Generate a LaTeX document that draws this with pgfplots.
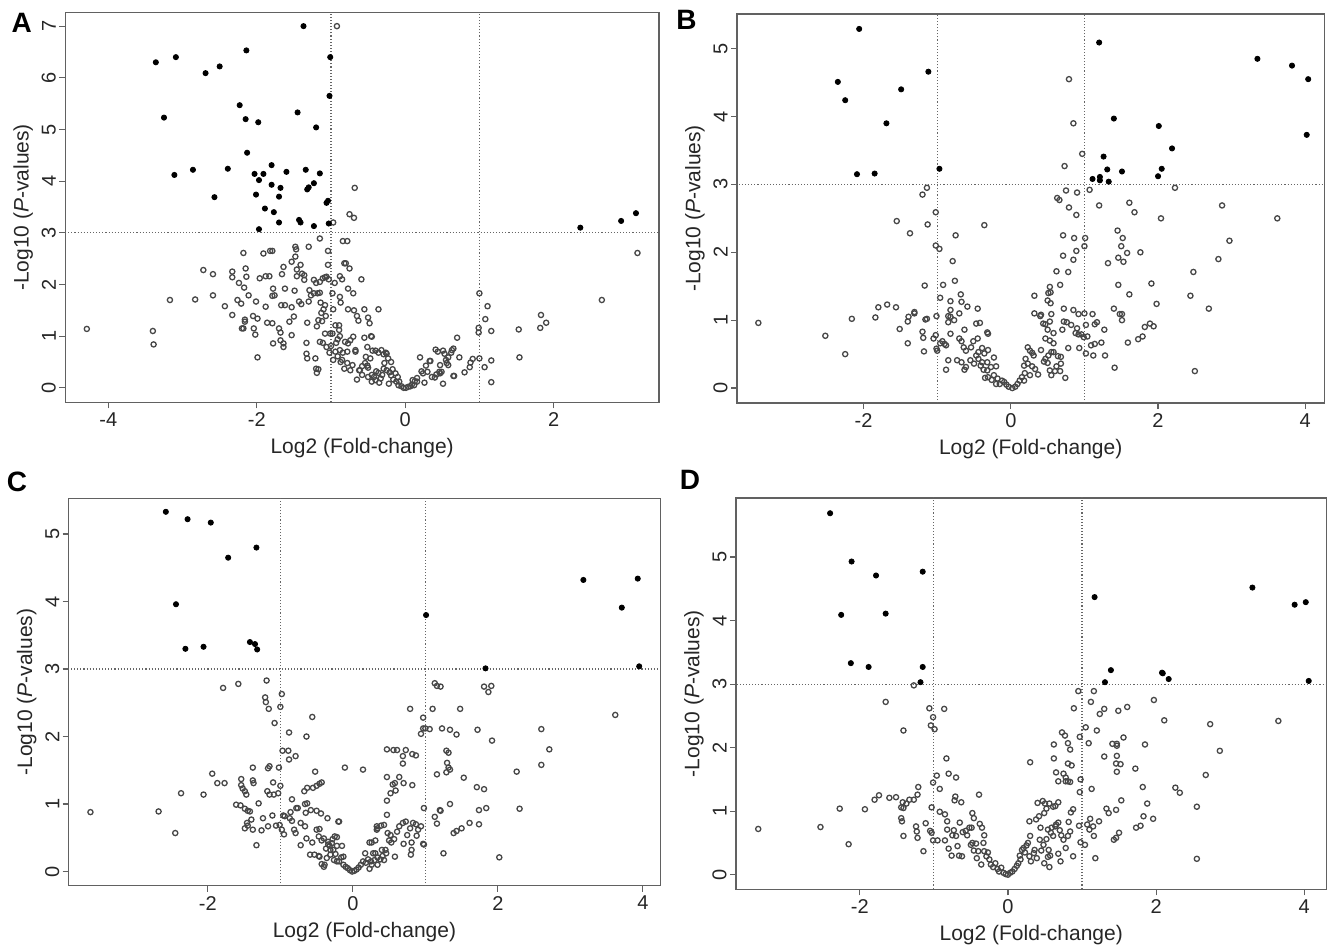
\documentclass[border=0pt]{standalone}
\usepackage{pgfplots}
\usepackage{pgfplotstable}
\pgfplotsset{compat=1.18}
\usepackage{fontspec}
\setmainfont{Liberation Sans}

% ---------------- Panel A ----------------
\pgfplotstableread[row sep=\\]{x y\\
-1.37 7.0\\ -3.36 6.30\\ -3.09 6.40\\ -2.14 6.53\\ -2.69 6.09\\ -2.50 6.22\\ -1.01 6.40\\ -1.02 5.65\\
-3.25 5.23\\ -2.23 5.47\\ -2.15 5.20\\ -1.98 5.14\\ -1.45 5.33\\ -1.20 5.04\\ -2.13 4.55\\ -3.11 4.12\\
-2.86 4.22\\ -2.39 4.24\\ -2.03 4.14\\ -1.91 4.14\\ -1.97 4.02\\ -1.80 4.31\\ -1.60 4.18\\ -1.34 4.22\\
-1.15 4.15\\ -1.23 3.96\\ -1.30 3.88\\ -1.32 3.84\\ -1.80 3.93\\ -1.68 3.87\\ -2.01 3.74\\ -1.70 3.70\\
-2.57 3.69\\ -1.06 3.58\\ -1.04 3.62\\ -1.89 3.47\\ -1.77 3.40\\ -1.43 3.25\\ -1.41 3.20\\ -1.70 3.20\\
-1.03 3.18\\ -1.23 3.13\\ -1.97 3.07\\ 2.36 3.10\\ 2.91 3.23\\ 3.11 3.38\\
}\Afill
\pgfplotstableread[row sep=\\]{x y\\
-0.92 7.0\\ -0.68 3.87\\ -0.75 3.36\\ -0.69 3.29\\ -0.97 3.20\\ 3.13 2.61\\ 2.65 1.70\\ 1.83 1.41\\
1.90 1.26\\ 1.82 1.16\\ 1.53 1.13\\ 1.54 0.59\\ 1.00 1.83\\ 1.11 1.58\\ 1.08 1.33\\ 0.99 1.16\\
0.99 1.07\\ 1.16 1.10\\ 1.16 0.53\\ 1.07 0.40\\ 1.16 0.11\\ 1.00 0.57\\ 0.91 0.56\\ 0.87 0.40\\
0.80 0.30\\ 0.70 0.97\\ 0.73 0.59\\ 0.66 0.23\\ 0.65 0.23\\ 0.63 0.73\\ 0.62 0.68\\ 0.53 0.66\\
0.51 0.72\\ 0.41 0.74\\ 0.44 0.70\\ 0.58 0.59\\ 0.55 0.54\\ 0.56 0.48\\ 0.47 0.44\\ 0.49 0.31\\
0.47 0.28\\ 0.51 0.08\\ 0.40 0.20\\ 0.33 0.52\\ 0.34 0.52\\ 0.28 0.43\\ 0.22 0.32\\ 0.26 0.10\\
0.20 0.59\\ 0.16 0.19\\ 0.13 0.13\\ 0.12 0.05\\ 0.07 0.03\\ 0.04 0.02\\ -0.02 0\\ -0.05 0.03\\
-0.09 0.05\\ -0.12 0.12\\ -0.16 0.16\\ -0.19 0.24\\ -0.21 0.30\\ -0.22 0.08\\ -0.25 0.34\\ -0.29 0.37\\
-0.28 0.48\\ -0.26 0.68\\ -0.23 0.57\\ -0.31 0.25\\ -0.33 0.18\\ -0.36 0.29\\ -0.39 0.32\\ -0.42 0.21\\
-0.45 0.12\\ -0.47 0.57\\ -0.45 0.99\\ -0.44 0.72\\ -0.50 0.39\\ -0.51 0.43\\ -0.53 0.60\\ -0.55 0.97\\
-0.54 0.48\\ -0.58 0.42\\ -0.62 0.34\\ -0.65 0.16\\ -0.48 1.25\\ -0.50 1.36\\ -0.55 1.52\\ -0.36 1.52\\
-0.59 2.10\\ -0.63 1.30\\ -0.65 1.39\\ -0.67 0.73\\ -0.67 0.70\\ -0.70 1.83\\ -0.69 1.50\\ -0.70 0.99\\
-0.74 0.92\\ -0.77 0.86\\ -0.77 1.92\\ -0.75 2.31\\ -0.80 2.41\\ -0.82 2.41\\ -0.77 1.52\\ -0.78 0.48\\
-0.82 0.37\\ -0.85 2.10\\ -0.85 0.54\\ -0.87 1.65\\ -0.88 2.16\\ -0.87 0.50\\ -0.88 1.00\\ -0.89 1.21\\
-0.91 0.94\\ -0.93 0.87\\ -0.94 0.70\\ -0.95 2.03\\ -0.97 0.54\\ -0.84 0.68\\ -0.81 0.89\\ -0.84 2.84\\
-0.78 2.84\\ -1.04 2.65\\ -1.04 2.38\\ -1.06 2.15\\ -1.08 2.14\\ -1.11 2.12\\ -1.15 2.05\\ -1.03 2.10\\
-1.01 1.05\\ -0.98 1.05\\ -1.00 0.81\\ -1.06 0.79\\ -1.02 0.68\\ -1.08 1.60\\ -1.10 1.52\\ -1.07 1.39\\
-1.13 1.45\\ -1.12 1.29\\ -1.17 1.31\\ -1.19 1.19\\ -1.21 0.57\\ -1.20 0.37\\ -1.17 0.36\\ -1.19 0.29\\
-1.15 0.89\\ -1.15 1.84\\ -1.14 1.65\\ -1.18 1.83\\ -1.23 1.83\\ -1.27 1.79\\ -1.29 1.89\\ -1.30 1.67\\
-1.32 1.26\\ -1.33 0.87\\ -1.33 0.66\\ -1.32 0.57\\ -1.30 2.73\\ -1.15 2.89\\ -1.23 2.09\\ -1.39 2.21\\
-1.36 2.18\\ -1.46 2.16\\ -1.48 2.73\\ -1.47 2.68\\ -1.48 2.54\\ -1.46 2.29\\ -1.41 2.38\\ -1.53 2.44\\
-1.49 1.88\\ -1.53 1.56\\ -1.56 1.28\\ -1.53 1.02\\ -1.50 1.38\\ -1.64 2.34\\ -1.66 2.20\\ -1.62 1.92\\
-1.62 1.60\\ -1.67 1.60\\ -1.68 0.92\\ -1.64 0.86\\ -1.64 0.79\\ -1.70 1.15\\ -1.68 1.07\\ -1.78 1.92\\
-1.79 1.78\\ -1.76 1.79\\ -1.82 2.65\\ -1.79 2.65\\ -1.91 2.60\\ -1.88 2.16\\ -1.83 2.16\\ -1.96 2.12\\
-1.88 1.57\\ -1.86 1.26\\ -1.79 1.25\\ -2.01 1.67\\ -1.99 1.34\\ -2.05 1.39\\ -2.04 1.15\\ -2.02 1.03\\
-1.99 0.59\\ -2.11 1.79\\ -2.14 2.15\\ -2.15 2.31\\ -2.18 2.61\\ -2.17 1.94\\ -2.24 2.03\\ -2.21 1.63\\
-2.26 1.70\\ -2.16 1.32\\ -2.16 1.28\\ -2.20 1.15\\ -2.18 1.15\\ -2.33 2.25\\ -2.33 2.14\\ -2.33 1.41\\
-2.43 1.58\\ -2.59 2.20\\ -2.59 1.79\\ -2.72 2.28\\ -2.83 1.71\\ -3.17 1.70\\ -3.40 1.10\\ -3.39 0.84\\
-4.29 1.14\\ -0.51 0.79\\ -0.46 1.00\\ -0.40 0.72\\ -0.36 0.68\\ -0.32 0.73\\ -0.29 0.65\\ -0.25 0.66\\
-0.19 0.50\\ -0.17 0.36\\ -0.13 0.28\\ -0.10 0.21\\ -0.08 0.12\\ 0.01 0\\ 0.09 0.06\\ 0.10 0.15\\
0.16 0.12\\ 0.24 0.28\\ 0.30 0.31\\ 0.36 0.21\\ 0.42 0.26\\ 0.46 0.31\\ 0.58 0.44\\ 0.65 0.76\\
0.88 0.49\\ -0.61 0.34\\ -0.58 0.25\\ -0.50 0.21\\ -0.45 0.25\\ -0.40 0.15\\ -0.35 0.10\\ -0.74 0.34\\
-0.71 0.44\\ -0.91 0.61\\ -0.88 0.73\\ -0.78 0.70\\ -1.08 1.05\\ -1.11 0.87\\ -0.94 1.21\\ -0.89 1.12\\
-0.98 1.83\\ -0.97 1.52\\ -0.88 1.76\\ -1.43 1.67\\ -1.40 1.62\\ -1.36 2.09\\ -1.20 2.03\\ -1.78 0.86\\
}\Aopen

% ---------------- Panel B ----------------
\pgfplotstableread[row sep=\\]{x y\\
-2.06 5.29\\ 1.20 5.09\\ 3.35 4.85\\ 3.82 4.75\\ 4.04 4.55\\ -1.12 4.66\\ -2.35 4.51\\ -2.25 4.24\\
-1.49 4.40\\ -1.69 3.90\\ 1.40 3.97\\ 2.01 3.86\\ 4.02 3.73\\ 2.19 3.53\\ 1.26 3.41\\ 2.05 3.23\\
1.31 3.22\\ 1.51 3.19\\ -0.97 3.23\\ -2.09 3.15\\ -1.85 3.16\\ 2.00 3.12\\ 1.11 3.08\\ 1.21 3.11\\
1.21 3.06\\ 1.33 3.04\\
}\Bfill
\pgfplotstableread[row sep=\\]{x y\\
0.79 4.55\\ 0.85 3.90\\ 0.97 3.45\\ 0.73 3.27\\ 1.07 2.92\\ 2.23 2.95\\ 1.20 2.69\\ 1.61 2.73\\
1.68 2.59\\ 2.87 2.69\\ 2.04 2.50\\ 3.62 2.50\\ 1.45 2.32\\ 1.52 2.21\\ 2.97 2.17\\ 1.50 2.09\\
1.58 1.99\\ 1.76 2.00\\ 1.46 1.92\\ 1.53 1.86\\ 1.32 1.84\\ 2.82 1.90\\ 2.48 1.71\\ 1.46 1.52\\
1.91 1.54\\ 1.61 1.38\\ 2.44 1.36\\ 1.98 1.24\\ 2.69 1.17\\ 1.40 1.17\\ 1.48 1.09\\ 1.51 1.09\\
1.51 1.00\\ 1.89 0.95\\ 1.94 0.91\\ 1.82 0.90\\ 1.79 0.76\\ 1.73 0.72\\ 1.59 0.67\\ 1.41 0.30\\
2.50 0.25\\ 1.28 0.48\\ 1.27 0.86\\ 1.12 0.48\\ 1.14 0.65\\ 1.23 0.67\\ 1.09 0.63\\ 1.11 1.09\\
1.17 0.97\\ 1.14 0.94\\ 1.04 0.76\\ 0.99 0.75\\ 0.96 0.79\\ 0.92 0.79\\ 0.88 0.81\\ 0.93 0.59\\
1.02 0.51\\ 1.02 0.93\\ 1.00 1.10\\ 0.92 1.09\\ 0.85 1.15\\ 0.90 0.88\\ 0.82 0.93\\ 0.78 0.59\\
0.76 0.97\\ 0.72 0.98\\ 0.72 1.17\\ 0.70 0.86\\ 0.58 0.81\\ 0.58 0.66\\ 0.55 0.53\\ 0.58 0.53\\
0.64 0.47\\ 0.68 0.46\\ 0.68 0.36\\ 0.62 0.32\\ 0.67 0.25\\ 0.60 0.25\\ 0.74 0.15\\ 0.55 0.19\\
0.53 0.26\\ 0.50 0.37\\ 0.47 0.43\\ 0.45 0.39\\ 0.51 0.48\\ 0.53 0.70\\ 0.47 0.73\\ 0.50 0.86\\
0.47 0.94\\ 0.53 0.98\\ 0.55 1.09\\ 0.50 1.29\\ 0.51 1.40\\ 0.54 1.41\\ 0.53 1.49\\ 0.54 1.25\\
0.67 1.52\\ 0.62 1.72\\ 0.78 1.71\\ 0.71 1.95\\ 0.85 1.89\\ 0.89 2.02\\ 1.00 2.09\\ 1.01 2.21\\
0.86 2.21\\ 0.71 2.25\\ 0.89 2.55\\ 0.79 2.66\\ 0.63 2.80\\ 0.66 2.77\\ 0.75 2.91\\ 0.90 2.88\\
0.41 1.08\\ 0.32 1.36\\ 0.32 1.10\\ 0.40 1.06\\ 0.44 0.95\\ 0.41 0.56\\ 0.26 0.55\\ 0.29 0.52\\
0.31 0.48\\ 0.23 0.60\\ 0.20 0.43\\ 0.23 0.36\\ 0.18 0.33\\ 0.29 0.32\\ 0.33 0.28\\ 0.37 0.20\\
0.26 0.19\\ 0.19 0.22\\ 0.15 0.16\\ 0.12 0.11\\ 0.18 0.11\\ 0.09 0.06\\ 0.06 0.02\\ 0.02 0\\
-0.03 0.02\\ -0.06 0.05\\ -0.09 0.09\\ -0.12 0.11\\ -0.15 0.06\\ -0.18 0.14\\ -0.20 0.06\\ -0.23 0.19\\
-0.26 0.12\\ -0.31 0.16\\ -0.35 0.15\\ -0.32 0.26\\ -0.37 0.27\\ -0.27 0.31\\ -0.23 0.45\\ -0.20 0.32\\
-0.32 0.38\\ -0.39 0.38\\ -0.44 0.43\\ -0.31 0.56\\ -0.31 0.80\\ -0.32 0.82\\ -0.36 0.51\\ -0.41 0.33\\
-0.50 0.36\\ -0.47 0.48\\ -0.44 0.53\\ -0.39 0.59\\ -0.42 0.96\\ -0.47 0.95\\ -0.45 0.73\\ -0.51 0.69\\
-0.54 0.60\\ -0.55 0.41\\ -0.61 0.31\\ -0.63 0.27\\ -0.67 0.38\\ -0.64 0.60\\ -0.67 0.69\\ -0.61 0.55\\
-0.70 0.73\\ -0.73 0.41\\ -0.63 0.86\\ -0.59 1.20\\ -0.45 1.17\\ -0.70 1.10\\ -0.67 1.27\\ -0.68 1.38\\
-0.77 1.00\\ -0.85 0.97\\ -0.82 0.80\\ -0.88 0.63\\ -0.85 0.41\\ -0.88 0.27\\ -0.90 0.65\\ -0.96 0.66\\
-0.93 0.69\\ -1.01 0.58\\ -1.00 0.55\\ -1.02 0.78\\ -1.05 0.73\\ -1.01 1.06\\ -0.96 1.33\\ -0.92 1.52\\
-0.76 1.58\\ -0.79 1.87\\ -0.75 2.25\\ -0.82 1.28\\ -0.82 1.15\\ -0.82 1.05\\ -0.85 1.06\\ -1.02 2.10\\
-0.97 2.05\\ -1.02 2.59\\ -1.13 2.41\\ -1.14 2.95\\ -1.20 2.85\\ -0.36 2.40\\ -1.55 2.46\\ -1.37 2.28\\
-1.17 1.51\\ -1.14 1.02\\ -1.16 1.01\\ -1.20 0.83\\ -1.19 0.74\\ -1.18 0.54\\ -1.40 0.98\\ -1.39 1.05\\
-1.31 1.10\\ -1.31 1.12\\ -1.40 0.66\\ -1.51 0.87\\ -1.56 1.19\\ -1.68 1.23\\ -1.80 1.19\\ -1.84 1.04\\
-2.16 1.02\\ -2.52 0.77\\ -2.25 0.50\\ -3.43 0.96\\
}\Bopen

% ---------------- Panel C ----------------
\pgfplotstableread[row sep=\\]{x y\\
-2.58 5.33\\ -2.28 5.22\\ -1.96 5.17\\ -1.33 4.80\\ -1.72 4.65\\ -2.44 3.96\\ 1.01 3.80\\ 3.18 4.32\\
3.93 4.34\\ 3.71 3.91\\ 3.95 3.04\\ 1.83 3.01\\ -1.42 3.40\\ -1.35 3.37\\ -1.32 3.29\\ -2.31 3.30\\
-2.06 3.33\\
}\Cfill
\pgfplotstableread[row sep=\\]{x y\\
-1.19 2.83\\ -1.58 2.78\\ -1.79 2.72\\ -0.98 2.63\\ -1.21 2.58\\ -1.20 2.51\\ -1.16 2.41\\ -1.00 2.44\\
-1.08 2.20\\ -0.56 2.29\\ -0.88 2.06\\ -0.64 2.00\\ -0.97 1.79\\ -0.89 1.79\\ -0.79 1.71\\ -0.88 1.66\\
-1.15 1.56\\ -1.17 1.53\\ -1.38 1.54\\ -1.02 1.54\\ -0.52 1.48\\ -0.11 1.54\\ 0.14 1.51\\ -1.94 1.45\\
-1.87 1.31\\ -1.77 1.31\\ -1.54 1.37\\ -1.38 1.35\\ -1.37 1.31\\ -1.10 1.32\\ -1.00 1.27\\ -1.54 1.28\\
-1.52 1.23\\ -1.49 1.19\\ -1.47 1.14\\ -1.18 1.19\\ -1.15 1.14\\ -1.09 1.14\\ -1.03 1.16\\ -0.46 1.30\\
-0.50 1.27\\ -0.55 1.24\\ -0.43 1.32\\ -0.67 1.19\\ -0.63 1.24\\ -0.84 1.07\\ -2.37 1.16\\ -2.06 1.14\\
-1.61 0.99\\ -1.55 0.98\\ -1.49 0.93\\ -1.45 0.90\\ -1.42 0.89\\ -1.30 1.01\\ -1.11 0.83\\ -0.96 0.83\\
-0.94 0.82\\ -0.86 0.88\\ -0.78 0.94\\ -0.76 0.94\\ -0.66 1.00\\ -0.63 1.01\\ -0.65 0.87\\ -0.58 0.91\\
-0.50 0.90\\ -0.44 0.86\\ -0.35 0.79\\ -0.20 0.74\\ -0.19 0.74\\ -1.24 0.79\\ -1.40 0.77\\ -1.46 0.72\\
-1.45 0.68\\ -1.49 0.64\\ -1.38 0.62\\ -1.26 0.61\\ -1.17 0.67\\ -1.06 0.68\\ -1.01 0.69\\ -0.98 0.62\\
-0.95 0.55\\ -0.87 0.79\\ -0.84 0.75\\ -0.81 0.62\\ -0.79 0.57\\ -0.72 0.72\\ -0.66 0.67\\ -0.64 0.49\\
-0.72 0.39\\ -0.56 0.43\\ -0.50 0.62\\ -0.46 0.63\\ -0.47 0.52\\ -0.43 0.46\\ -0.40 0.49\\ -0.34 0.44\\
-0.28 0.48\\ -0.22 0.51\\ -0.32 0.38\\ -0.37 0.34\\ -0.31 0.32\\ -0.27 0.32\\ -0.22 0.38\\ -0.15 0.38\\
-0.53 0.25\\ -0.47 0.23\\ -0.39 0.10\\ -0.36 0.20\\ -0.31 0.25\\ -0.26 0.17\\ -0.22 0.15\\ -0.16 0.21\\
-0.13 0.10\\ -0.10 0.07\\ -0.07 0.05\\ -0.04 0.02\\ -0.01 0\\ 0.02 0.01\\ 0.05 0.03\\ 0.08 0.06\\
0.11 0.10\\ 0.14 0.15\\ 0.18 0.13\\ 0.21 0.18\\ 0.23 0.04\\ 0.26 0.10\\ 0.30 0.17\\ 0.34 0.21\\
0.38 0.18\\ 0.41 0.23\\ 0.45 0.32\\ 0.23 0.43\\ 0.26 0.43\\ 0.31 0.46\\ 0.33 0.67\\ 0.33 0.62\\
0.34 0.64\\ 0.39 0.68\\ 0.43 0.69\\ 0.48 0.57\\ 0.52 0.54\\ 0.50 0.46\\ 0.53 0.43\\ 0.57 0.48\\
0.58 0.22\\ 0.61 0.59\\ 0.64 0.67\\ 0.69 0.72\\ 0.70 0.41\\ 0.73 0.74\\ 0.75 0.54\\ 0.79 0.64\\
0.81 0.43\\ 0.83 0.72\\ 0.87 0.70\\ 0.88 0.53\\ 0.90 0.62\\ 0.94 0.67\\ 0.97 0.41\\ 0.98 0.40\\
0.80 0.25\\ 0.81 0.32\\ 0.47 0.84\\ 0.47 1.05\\ 0.52 1.16\\ 0.59 1.20\\ 0.55 1.29\\ 0.58 1.31\\
0.64 1.40\\ 0.70 1.31\\ 0.69 1.71\\ 0.61 1.80\\ 0.47 1.81\\ 0.56 1.80\\ 0.73 1.80\\ 0.82 1.74\\
0.87 1.72\\ 0.69 1.60\\ 0.82 1.28\\ 0.47 1.40\\ 0.98 0.94\\ 0.79 2.41\\ 0.97 2.28\\ 1.00 2.12\\
0.97 2.12\\ 1.06 2.11\\ 0.94 2.04\\ 1.10 2.41\\ 1.13 2.79\\ 1.16 2.75\\ 1.21 2.74\\ 1.23 2.12\\
1.34 2.10\\ 1.43 2.03\\ 1.48 2.41\\ 1.29 1.79\\ 1.32 1.76\\ 1.30 1.61\\ 1.32 1.54\\ 1.34 1.51\\
1.29 1.47\\ 1.16 1.44\\ 1.53 1.39\\ 1.13 0.81\\ 1.16 0.71\\ 1.21 0.90\\ 1.20 0.91\\ 1.34 1.00\\
1.25 0.27\\ 1.39 0.57\\ 1.43 0.60\\ 1.50 0.64\\ 1.61 0.72\\ 1.74 0.70\\ 1.74 0.91\\ 1.84 0.94\\
1.71 1.25\\ 1.81 1.22\\ 1.72 2.10\\ 1.92 1.94\\ 1.81 2.74\\ 1.91 2.75\\ 1.87 2.66\\ 2.02 0.21\\
2.26 1.48\\ 2.30 0.93\\ 2.60 1.58\\ 2.60 2.11\\ 2.71 1.81\\ 3.62 2.32\\ -3.62 0.88\\ -2.68 0.89\\
-2.45 0.57\\ -1.33 0.39\\ -0.46 0.22\\ -0.43 0.11\\ -0.40 0.07\\ -0.24 0.26\\ -0.19 0.15\\ -0.13 0.22\\
0.17 0.27\\ 0.31 0.27\\ 0.40 0.32\\ 0.46 0.27\\ 0.43 0.17\\ 0.34 0.10\\ 0.25 0.15\\ 0.28 0.27\\
-0.29 0.42\\ -0.34 0.40\\ -0.25 0.52\\ -0.59 0.25\\
}\Copen

% ---------------- Panel D ----------------
\pgfplotstableread[row sep=\\]{x y\\
-2.40 5.69\\ -2.11 4.93\\ -1.78 4.71\\ -1.15 4.77\\ -2.25 4.09\\ -1.65 4.11\\ -2.12 3.33\\ -1.88 3.27\\
-1.15 3.27\\ -1.18 3.03\\ 1.17 4.37\\ 1.39 3.22\\ 1.31 3.03\\ 2.08 3.18\\ 2.09 3.17\\ 2.17 3.08\\
3.30 4.52\\ 3.87 4.25\\ 4.02 4.29\\ 4.06 3.05\\
}\Dfill
\pgfplotstableread[row sep=\\]{x y\\
-1.27 2.98\\ -1.65 2.72\\ -1.06 2.62\\ -0.86 2.61\\ -1.01 2.48\\ -1.04 2.35\\ -0.99 2.29\\ -1.41 2.27\\
-0.83 1.83\\ -0.96 1.56\\ -0.80 1.59\\ -0.70 1.53\\ -1.01 1.45\\ -0.92 1.35\\ -1.21 1.38\\ -1.22 1.26\\
-1.33 1.18\\ -1.27 1.18\\ -1.42 1.14\\ -1.37 1.12\\ -1.51 1.22\\ -1.60 1.21\\ -1.74 1.25\\ -1.80 1.18\\
-1.44 1.06\\ -1.41 1.05\\ -1.44 0.89\\ -1.43 0.84\\ -1.41 0.61\\ -2.27 1.04\\ -1.93 1.03\\ -2.53 0.75\\
-2.15 0.48\\ -3.37 0.72\\ -1.14 0.37\\ -1.03 1.06\\ -1.24 0.76\\ -1.23 0.68\\ -1.22 0.58\\ -1.11 0.81\\
-1.05 0.69\\ -1.03 0.66\\ -1.01 0.54\\ -0.95 0.54\\ -0.92 0.99\\ -0.85 0.95\\ -0.82 0.84\\ -0.82 0.71\\
-0.85 0.54\\ -0.80 0.41\\ -0.76 0.30\\ -0.75 0.62\\ -0.73 0.70\\ -0.70 0.61\\ -0.71 1.23\\ -0.72 1.17\\
-0.63 1.14\\ -0.68 0.45\\ -0.66 0.30\\ -0.62 0.29\\ -0.65 0.82\\ -0.61 0.67\\ -0.57 0.69\\ -0.55 0.62\\
-0.52 0.74\\ -0.48 0.97\\ -0.46 0.89\\ -0.48 0.50\\ -0.50 0.47\\ -0.43 0.49\\ -0.46 0.38\\ -0.40 0.37\\
-0.42 0.26\\ -0.49 0.74\\ -0.38 0.80\\ -0.35 0.74\\ -0.32 0.62\\ -0.33 0.50\\ -0.39 1.26\\ -0.36 0.16\\
-0.32 0.37\\ -0.29 0.29\\ -0.27 0.35\\ -0.25 0.24\\ -0.23 0.16\\ -0.20 0.12\\ -0.17 0.18\\ -0.14 0.09\\
-0.12 0.05\\ -0.09 0.11\\ -0.06 0.03\\ -0.03 0.01\\ 0 0\\ 0.03 0.03\\ 0.06 0.05\\ 0.09 0.09\\
0.12 0.14\\ 0.14 0.18\\ 0.17 0.24\\ 0.19 0.39\\ 0.21 0.42\\ 0.25 0.46\\ 0.27 0.50\\ 0.29 0.29\\
0.31 0.21\\ 0.35 0.34\\ 0.36 0.39\\ 0.39 0.26\\ 0.38 0.87\\ 0.29 0.84\\ 0.30 1.77\\ 0.40 1.13\\
0.42 0.92\\ 0.44 0.74\\ 0.43 0.55\\ 0.48 0.47\\ 0.45 0.38\\ 0.49 0.18\\ 0.50 1.12\\ 0.47 1.16\\
0.52 1.04\\ 0.49 0.97\\ 0.54 0.71\\ 0.52 0.56\\ 0.55 0.39\\ 0.57 0.30\\ 0.54 0.28\\ 0.56 1.12\\
0.58 0.66\\ 0.59 0.74\\ 0.61 0.61\\ 0.64 0.76\\ 0.65 0.79\\ 0.68 0.82\\ 0.70 0.70\\ 0.72 0.62\\
0.75 0.55\\ 0.78 0.42\\ 0.81 0.61\\ 0.84 0.68\\ 0.85 0.98\\ 0.88 1.03\\ 0.82 0.83\\ 0.88 0.29\\
0.68 0.33\\ 0.71 0.21\\ 0.56 0.12\\ 0.61 1.07\\ 0.64 1.08\\ 0.68 1.14\\ 0.62 2.05\\ 0.62 1.83\\
0.65 1.61\\ 0.68 1.47\\ 0.75 1.59\\ 0.78 1.53\\ 0.84 1.46\\ 0.81 1.47\\ 0.78 1.47\\ 0.81 1.75\\
0.86 1.72\\ 0.81 2.07\\ 0.84 1.97\\ 0.73 2.24\\ 0.77 2.19\\ 0.89 2.62\\ 0.95 2.89\\ 0.97 2.17\\
0.98 1.50\\ 0.97 1.30\\ 0.96 0.77\\ 0.98 0.51\\ 1.04 0.47\\ 1.05 2.32\\ 1.09 2.07\\ 1.12 2.72\\
1.16 2.89\\ 1.13 1.35\\ 1.07 0.79\\ 1.10 0.71\\ 1.11 0.88\\ 1.15 0.76\\ 1.16 0.61\\ 1.18 0.26\\
1.20 2.27\\ 1.24 2.53\\ 1.30 2.61\\ 1.30 1.86\\ 1.23 0.84\\ 1.33 1.04\\ 1.36 0.97\\ 1.41 2.06\\
1.47 2.03\\ 1.47 2.06\\ 1.47 1.87\\ 1.46 1.75\\ 1.47 1.62\\ 1.52 1.74\\ 1.49 2.58\\ 1.56 2.16\\
1.61 2.64\\ 1.72 1.67\\ 1.85 2.05\\ 1.82 1.38\\ 1.88 1.12\\ 1.83 0.92\\ 1.79 0.77\\ 1.73 0.74\\
1.96 0.88\\ 1.50 0.66\\ 1.46 1.02\\ 1.46 0.58\\ 1.43 0.55\\ 1.53 1.17\\ 1.97 2.75\\ 2.11 2.43\\
2.26 1.37\\ 2.32 1.29\\ 2.55 1.07\\ 2.55 0.25\\ 2.67 1.57\\ 2.73 2.37\\ 2.86 1.95\\ 3.65 2.42\\
0.30 0.61\\ 0.23 0.35\\ 0.16 0.30\\
}\Dopen

\pgfplotsset{
  volc/.style={
    scale only axis, anchor=north west,
    axis line style={draw=black!62, line width=0.6pt},
    tick align=outside, xtick pos=bottom, ytick pos=left,
    major tick length=3pt,
    tick style={black!62, line width=0.6pt},
    tick label style={font=\fontsize{10}{12}\selectfont, text=black!85},
    /pgf/number format/assume math mode=true,
    yticklabel style={rotate=90, anchor=south, inner sep=1.5pt},
    xticklabel style={inner sep=2pt},
    xlabel={Log2 (Fold-change)},
    ylabel={-Log10 (\textit{P}-values)},
    label style={font=\fontsize{10.5}{12}\selectfont, text=black!85},
    xlabel style={at={([yshift=-23pt]axis description cs:0.5,0)}, anchor=center},
    ylabel style={at={([xshift=-21pt]axis description cs:0,0.5)}, anchor=center},
    clip=true,
  },
  openpts/.style={only marks, mark=o, mark size=1.3pt,
    mark options={draw=black!72, fill=white, line width=0.65pt}},
  fillpts/.style={only marks, mark=*, mark size=1.3pt,
    mark options={draw=black, fill=black}},
  thr/.style={densely dotted, black!60, line width=0.55pt, forget plot},
}

\begin{document}
\begin{tikzpicture}
\useasboundingbox (0,0) rectangle (667.5pt,472pt);

% Panel A
\begin{axis}[volc, at={(32.65pt,465.65pt)}, width=296.85pt, height=194.8pt,
  xmin=-4.58, xmax=3.42, ymin=-0.28, ymax=7.26,
  xtick={-4,-2,0,2}, ytick={0,1,2,3,4,5,6,7}]
  \addplot[thr] coordinates {(-1,-1) (-1,8)};
  \addplot[thr] coordinates {(1,-1) (1,8)};
  \addplot[thr] coordinates {(-5,3) (4,3)};
  \addplot[openpts] table[x=x,y=y] {\Aopen};
  \addplot[fillpts] table[x=x,y=y] {\Afill};
\end{axis}

% Panel B
\begin{axis}[volc, at={(368.5pt,465pt)}, width=293.7pt, height=194.5pt,
  xmin=-3.72, xmax=4.26, ymin=-0.22, ymax=5.51,
  xtick={-2,0,2,4}, ytick={0,1,2,3,4,5}]
  \addplot[thr] coordinates {(-1,-1) (-1,8)};
  \addplot[thr] coordinates {(1,-1) (1,8)};
  \addplot[thr] coordinates {(-5,3) (5,3)};
  \addplot[openpts] table[x=x,y=y] {\Bopen};
  \addplot[fillpts] table[x=x,y=y] {\Bfill};
\end{axis}

% Panel C
\begin{axis}[volc, at={(34.35pt,222.85pt)}, width=295.75pt, height=193.7pt,
  xmin=-3.92, xmax=4.24, ymin=-0.21, ymax=5.53,
  xtick={-2,0,2,4}, ytick={0,1,2,3,4,5}]
  \addplot[thr] coordinates {(-1,-1) (-1,8)};
  \addplot[thr] coordinates {(1,-1) (1,8)};
  \addplot[thr] coordinates {(-5,3) (5,3)};
  \addplot[openpts] table[x=x,y=y] {\Copen};
  \addplot[fillpts] table[x=x,y=y] {\Cfill};
\end{axis}

% Panel D
\begin{axis}[volc, at={(368pt,223pt)}, width=295.25pt, height=195.65pt,
  xmin=-3.67, xmax=4.30, ymin=-0.23, ymax=5.93,
  xtick={-2,0,2,4}, ytick={0,1,2,3,4,5}]
  \addplot[thr] coordinates {(-1,-1) (-1,8)};
  \addplot[thr] coordinates {(1,-1) (1,8)};
  \addplot[thr] coordinates {(-5,3) (5,3)};
  \addplot[openpts] table[x=x,y=y] {\Dopen};
  \addplot[fillpts] table[x=x,y=y] {\Dfill};
\end{axis}

\node[font=\bfseries\fontsize{14}{16}\selectfont] at (10.85pt,460.65pt) {A};
\node[font=\bfseries\fontsize{14}{16}\selectfont] at (343.25pt,462pt) {B};
\node[font=\bfseries\fontsize{14}{16}\selectfont] at (8.5pt,231pt) {C};
\node[font=\bfseries\fontsize{14}{16}\selectfont] at (345pt,232pt) {D};
\end{tikzpicture}
\end{document}
